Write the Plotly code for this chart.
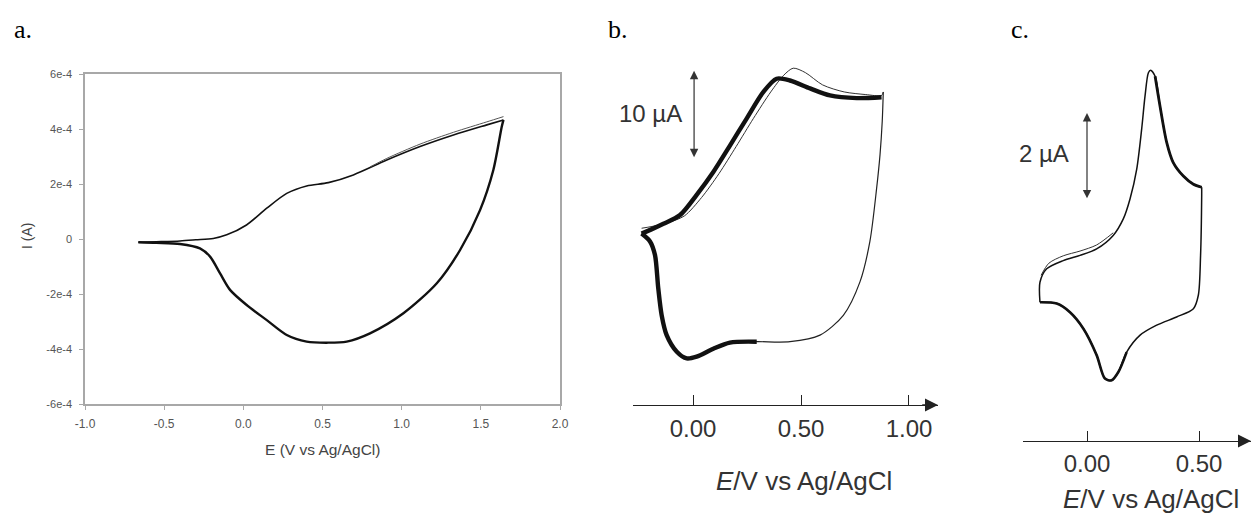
import plotly.graph_objects as go

W, H = 1252, 529

# ---------------- Panel a (I in units of 1e-4 A) ----------------
a_E_fwd = [-0.663, -0.55, -0.40, -0.30, -0.19, -0.105, 0.02, 0.148, 0.274, 0.40, 0.537,
           0.695, 0.906, 1.116, 1.327, 1.538, 1.643]
a_I_fwd = [-0.12, -0.10, -0.07, -0.03, 0.02, 0.15, 0.51, 1.12, 1.66, 1.93, 2.05,
           2.33, 2.87, 3.36, 3.78, 4.15, 4.33]
a_E_fwd1 = [0.80, 0.906, 1.116, 1.327, 1.538, 1.643]
a_I_fwd1 = [2.62, 2.93, 3.45, 3.88, 4.26, 4.45]
a_E_rev = [1.643, 1.632, 1.579, 1.495, 1.369, 1.222, 1.011, 0.80, 0.653, 0.537, 0.40,
           0.274, 0.148, 0.021, -0.084, -0.147, -0.21, -0.274, -0.40, -0.55, -0.663]
a_I_rev = [4.33, 4.08, 2.51, 1.05, -0.40, -1.61, -2.70, -3.43, -3.73, -3.77, -3.73,
           -3.49, -2.95, -2.40, -1.85, -1.25, -0.64, -0.34, -0.18, -0.14, -0.12]
a_xticks = [-1.0, -0.5, 0.0, 0.5, 1.0, 1.5, 2.0]
a_xticktext = ["-1.0", "-0.5", "0.0", "0.5", "1.0", "1.5", "2.0"]
a_yticks = [-6e-4, -4e-4, -2e-4, 0, 2e-4, 4e-4, 6e-4]
a_yticktext = ["-6e-4", "-4e-4", "-2e-4", "0", "2e-4", "4e-4", "6e-4"]

# ---------------- Panel b (I in µA, relative) ----------------
b_E_ox = [-0.238, -0.19, -0.137, -0.06, 0.017, 0.094, 0.171, 0.249, 0.326, 0.387, 0.449,
          0.542, 0.634, 0.758, 0.873]
b_I_ox = [19.5, 20.0, 20.6, 21.6, 23.9, 26.5, 29.5, 32.6, 35.6, 37.1, 36.9,
          36.0, 35.2, 34.9, 35.0]
b_E_ox1 = [-0.238, -0.19, -0.12, -0.04, 0.04, 0.12, 0.20, 0.28, 0.36, 0.42, 0.464,
           0.52, 0.60, 0.70, 0.80, 0.873, 0.881]
b_I_ox1 = [20.1, 20.3, 20.7, 21.5, 23.6, 26.3, 29.4, 32.6, 35.6, 37.5, 38.3,
           37.8, 36.4, 35.6, 35.3, 35.2, 35.6]
b_E_red = [0.881, 0.876, 0.866, 0.85, 0.819, 0.773, 0.696, 0.588, 0.449, 0.295, 0.171,
           0.094, 0.017, -0.029, -0.075, -0.122, -0.145, -0.161, -0.176, -0.199, -0.238]
b_I_red = [35.6, 32.2, 28.5, 24.6, 18.6, 14.0, 10.2, 7.95, 7.2, 7.2, 7.1,
           6.4, 5.5, 5.3, 6.06, 7.95, 10.2, 13.3, 17.05, 18.6, 19.5]
b_xticks = [0.0, 0.5, 1.0]
b_xticktext = ["0.00", "0.50", "1.00"]
b_scale = 10.0  # µA

# ---------------- Panel c (I in µA, relative) ----------------
c_E_ox = [-0.21, -0.21, -0.18, -0.106, -0.031, 0.043, 0.117, 0.162, 0.192, 0.222, 0.244,
          0.259, 0.274, 0.284, 0.304, 0.326, 0.356, 0.385, 0.430, 0.475, 0.512]
c_I_ox = [3.20, 3.66, 3.97, 4.16, 4.28, 4.43, 4.74, 5.12, 5.58, 6.27, 7.19,
          7.95, 8.49, 8.55, 8.41, 7.72, 6.88, 6.42, 6.11, 5.92, 5.85]
c_E_ox1 = [-0.205, -0.17, -0.106, -0.031, 0.043, 0.117]
c_I_ox1 = [3.82, 4.10, 4.27, 4.38, 4.52, 4.80]
c_E_red = [0.512, 0.512, 0.507, 0.497, 0.475, 0.40, 0.311, 0.237, 0.177, 0.140, 0.110,
           0.080, 0.043, -0.016, -0.076, -0.135, -0.21]
c_I_red = [5.85, 5.66, 4.28, 3.36, 3.05, 2.86, 2.67, 2.44, 2.05, 1.59, 1.40,
           1.44, 1.98, 2.59, 2.97, 3.17, 3.20]
c_xticks = [0.0, 0.5]
c_xticktext = ["0.00", "0.50"]
c_scale = 2.0  # µA


def px(x):
    return x / W


def py(y):
    return 1 - y / H


SANS = "Liberation Sans, Arial, sans-serif"
SERIF = "Liberation Serif, Times New Roman, serif"
sp = dict(shape="spline", smoothing=0.8)

fig = go.Figure()

# Panel a traces
fig.add_trace(go.Scatter(x=a_E_fwd, y=[v * 1e-4 for v in a_I_fwd], mode="lines",
                         line=dict(color="#111", width=1.6, **sp), xaxis="x", yaxis="y"))
fig.add_trace(go.Scatter(x=a_E_fwd1, y=[v * 1e-4 for v in a_I_fwd1], mode="lines",
                         line=dict(color="#555", width=1.0, **sp), xaxis="x", yaxis="y"))
fig.add_trace(go.Scatter(x=a_E_rev, y=[v * 1e-4 for v in a_I_rev], mode="lines",
                         line=dict(color="#111", width=2.4, **sp), xaxis="x", yaxis="y"))

# Panel b traces
fig.add_trace(go.Scatter(x=b_E_ox1, y=b_I_ox1, mode="lines",
                         line=dict(color="#333", width=1.0, **sp), xaxis="x2", yaxis="y2"))
fig.add_trace(go.Scatter(x=b_E_ox, y=b_I_ox, mode="lines",
                         line=dict(color="#111", width=4.4, **sp), xaxis="x2", yaxis="y2"))
fig.add_trace(go.Scatter(x=b_E_red, y=b_I_red, mode="lines",
                         line=dict(color="#222", width=1.2, **sp), xaxis="x2", yaxis="y2"))
fig.add_trace(go.Scatter(x=b_E_red[9:], y=b_I_red[9:], mode="lines",
                         line=dict(color="#111", width=4.4, **sp), xaxis="x2", yaxis="y2"))

# Panel c traces
fig.add_trace(go.Scatter(x=c_E_ox1, y=c_I_ox1, mode="lines",
                         line=dict(color="#333", width=1.0, **sp), xaxis="x3", yaxis="y3"))
fig.add_trace(go.Scatter(x=c_E_ox, y=c_I_ox, mode="lines",
                         line=dict(color="#111", width=1.5, **sp), xaxis="x3", yaxis="y3"))
fig.add_trace(go.Scatter(x=c_E_ox[14:], y=c_I_ox[14:], mode="lines",
                         line=dict(color="#111", width=2.8, **sp), xaxis="x3", yaxis="y3"))
fig.add_trace(go.Scatter(x=c_E_red, y=c_I_red, mode="lines",
                         line=dict(color="#111", width=1.5, **sp), xaxis="x3", yaxis="y3"))
fig.add_trace(go.Scatter(x=c_E_red[8:], y=c_I_red[8:], mode="lines",
                         line=dict(color="#111", width=2.6, **sp), xaxis="x3", yaxis="y3"))

# axis ranges derived from pixel layout
b_xr = [-0.2778, 1.1343]
b_yr = [0, 39.8]
c_xr = [-0.2857, 0.7321]
c_yr = [0, 8.9]

gray = "#a8a8a8"
fig.update_layout(
    width=W, height=H, margin=dict(l=0, r=0, t=0, b=0, pad=0, autoexpand=False),
    autosize=False,
    paper_bgcolor="white", plot_bgcolor="white", showlegend=False,
    xaxis=dict(domain=[px(85), px(560)], range=[-1, 2], anchor="y", automargin=False,
               showline=True, mirror=True, linecolor=gray, linewidth=1.5,
               ticks="outside", ticklen=4, tickcolor=gray, tickwidth=1,
               tickvals=a_xticks, ticktext=a_xticktext,
               tickfont=dict(family=SANS, size=12, color="#555"),
               showgrid=False, zeroline=False, ticklabelstandoff=4),
    yaxis=dict(domain=[py(404), py(74)], range=[-6e-4, 6e-4], anchor="x", automargin=False,
               showline=True, mirror=True, linecolor=gray, linewidth=1.5,
               ticks="outside", ticklen=4, tickcolor=gray, tickwidth=1,
               tickvals=a_yticks, ticktext=a_yticktext,
               tickfont=dict(family=SANS, size=11, color="#555"),
               showgrid=False, zeroline=False, ticklabelstandoff=5),
    xaxis2=dict(domain=[px(633), px(938)], range=b_xr, anchor="y2", automargin=False,
                showline=True, linecolor="#222", linewidth=1.3,
                ticks="inside", ticklen=10, tickwidth=1.3, tickcolor="#222",
                tickvals=b_xticks, ticktext=b_xticktext,
                tickfont=dict(family=SANS, size=24, color="#333"),
                showgrid=False, zeroline=False, ticklabelstandoff=2),
    yaxis2=dict(domain=[py(405), py(55)], range=b_yr, anchor="x2", visible=False,
                automargin=False),
    xaxis3=dict(domain=[px(1023), px(1251)], range=c_xr, anchor="y3", automargin=False,
                showline=True, linecolor="#222", linewidth=1.3,
                ticks="inside", ticklen=10, tickwidth=1.3, tickcolor="#222",
                tickvals=c_xticks, ticktext=c_xticktext,
                tickfont=dict(family=SANS, size=24, color="#333"),
                showgrid=False, zeroline=False, ticklabelstandoff=1),
    yaxis3=dict(domain=[py(441), py(55)], range=c_yr, anchor="x3", visible=False,
                automargin=False),
)

ann = []
# panel labels
for t, x in (("a.", 12), ("b.", 606), ("c.", 1009)):
    ann.append(dict(text=t, x=px(x), y=py(30), xref="paper", yref="paper",
                    xanchor="left", yanchor="middle", showarrow=False,
                    font=dict(family=SERIF, size=26, color="black")))
# panel a titles
ann.append(dict(text="E (V vs Ag/AgCl)", x=px(322), y=py(449), xref="paper", yref="paper",
                xanchor="center", yanchor="middle",
                showarrow=False, font=dict(family=SANS, size=15.5, color="#444")))
ann.append(dict(text="I (A)", x=px(27), y=py(236), xref="paper", yref="paper", textangle=-90,
                xanchor="center", yanchor="middle",
                showarrow=False, font=dict(family=SANS, size=14, color="#444")))
# panel b/c titles
ann.append(dict(text="<i>E</i>/V vs Ag/AgCl", x=px(804), y=py(481), xref="paper", yref="paper",
                xanchor="center", yanchor="middle",
                showarrow=False, font=dict(family=SANS, size=26, color="#333")))
ann.append(dict(text="<i>E</i>/V vs Ag/AgCl", x=px(1061), y=py(499), xref="paper", yref="paper",
                xanchor="left", yanchor="middle",
                showarrow=False, font=dict(family=SANS, size=26, color="#333")))
# axis arrows
ann.append(dict(text="", x=b_xr[1], y=0, xref="x2", yref="y2", ax=b_xr[1] - 0.08, ay=0,
                axref="x2", ayref="y2", showarrow=True, arrowhead=2, arrowsize=2.0,
                arrowwidth=1.3, arrowcolor="#222"))
ann.append(dict(text="", x=c_xr[1], y=0, xref="x3", yref="y3", ax=c_xr[1] - 0.06, ay=0,
                axref="x3", ayref="y3", showarrow=True, arrowhead=2, arrowsize=2.0,
                arrowwidth=1.3, arrowcolor="#222"))
# scale bars
b_top = 38.0
ann.append(dict(text="", x=0.005, y=b_top, xref="x2", yref="y2", ax=0.005, ay=b_top - b_scale,
                axref="x2", ayref="y2", showarrow=True, arrowside="end+start",
                arrowhead=2, startarrowhead=2, arrowsize=1.4, startarrowsize=1.4,
                arrowwidth=1.2, arrowcolor="#333"))
ann.append(dict(text="10 µA", x=-0.04, y=b_top - b_scale / 2 + 0.2, xref="x2", yref="y2",
                xanchor="right", yanchor="middle", showarrow=False,
                font=dict(family=SANS, size=24, color="#333")))
c_top = 7.56
ann.append(dict(text="", x=0.0, y=c_top, xref="x3", yref="y3", ax=0.0, ay=c_top - c_scale,
                axref="x3", ayref="y3", showarrow=True, arrowside="end+start",
                arrowhead=2, startarrowhead=2, arrowsize=1.4, startarrowsize=1.4,
                arrowwidth=1.2, arrowcolor="#333"))
ann.append(dict(text="2 µA", x=-0.07, y=c_top - c_scale / 2 + 0.06, xref="x3", yref="y3",
                xanchor="right", yanchor="middle", showarrow=False,
                font=dict(family=SANS, size=24, color="#333")))
fig.update_layout(annotations=ann)

fig.write_html(
    "out.html",
    config={"displayModeBar": False},
    post_script="document.body.style.margin='0';document.body.style.overflow='hidden';",
)
